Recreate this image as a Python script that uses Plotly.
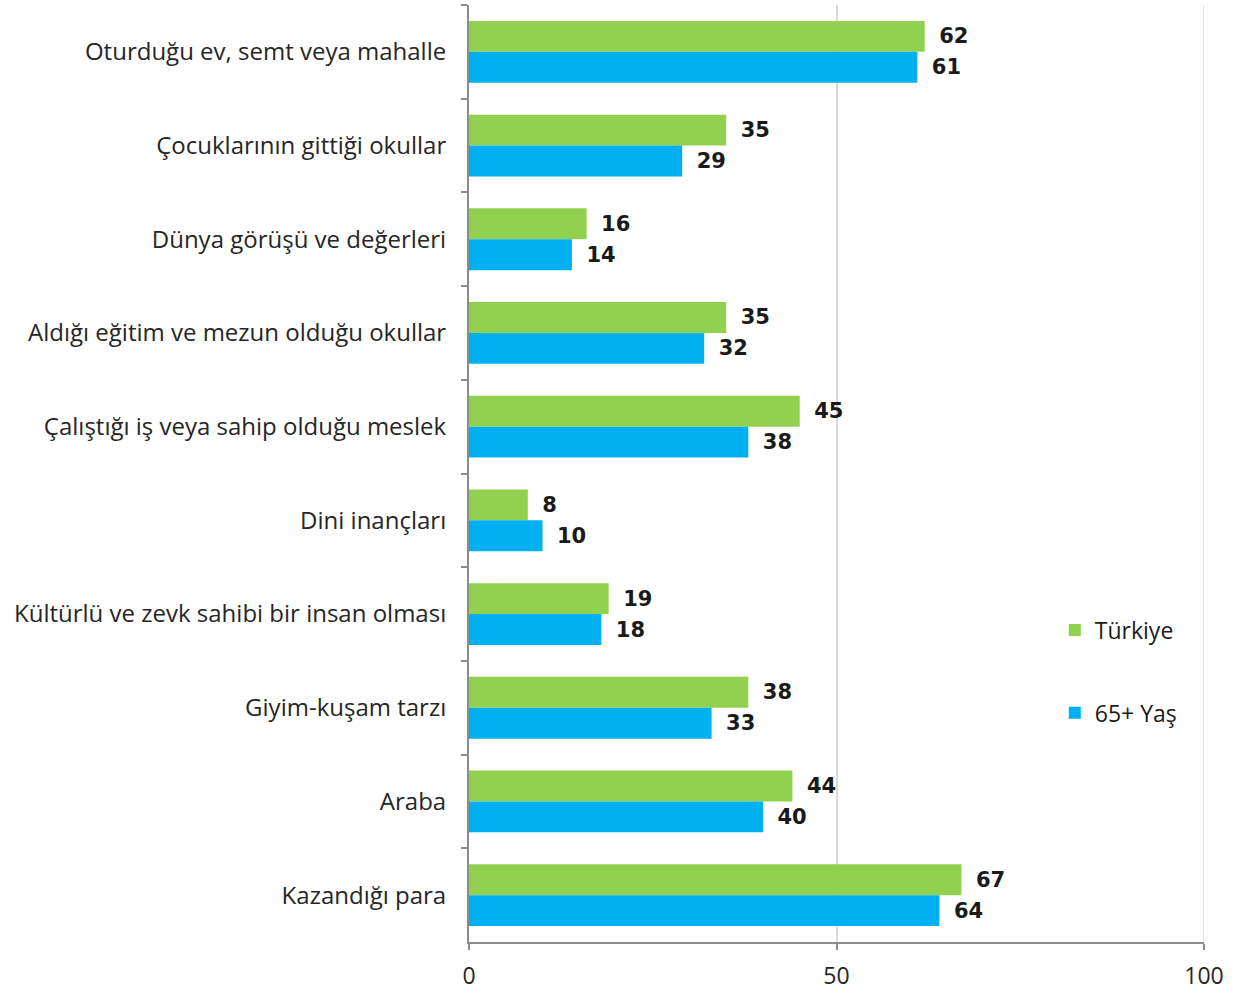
import plotly.graph_objects as go

categories = [
    "Oturduğu ev, semt veya mahalle",
    "Çocuklarının gittiği okullar",
    "Dünya görüşü ve değerleri",
    "Aldığı eğitim ve mezun olduğu okullar",
    "Çalıştığı iş veya sahip olduğu meslek",
    "Dini inançları",
    "Kültürlü ve zevk sahibi bir insan olması",
    "Giyim-kuşam tarzı",
    "Araba",
    "Kazandığı para",
]
turkiye = [62, 35, 16, 35, 45, 8, 19, 38, 44, 67]
yas65 = [61, 29, 14, 32, 38, 10, 18, 33, 40, 64]
x_ticks = [0, 50, 100]

label_font = dict(family="DejaVu Sans", size=21, color="#1a1a1a", weight="bold")

fig = go.Figure()
fig.add_trace(go.Bar(
    y=categories, x=turkiye, orientation="h", name="Türkiye",
    marker=dict(color="#92D050", line=dict(width=0)),
    text=turkiye, texttemplate=" \u2009%{x}", textposition="outside",
    textfont=label_font, cliponaxis=False, legendgroup="a",
))
fig.add_trace(go.Bar(
    y=categories, x=yas65, orientation="h", name="65+ Yaş",
    marker=dict(color="#00B0F0", line=dict(width=0)),
    text=yas65, texttemplate=" \u2009%{x}", textposition="outside",
    textfont=label_font, cliponaxis=False, legendgroup="b",
))

fig.update_layout(
    width=1245, height=992,
    margin=dict(l=469, r=41, t=5, b=50, autoexpand=False),
    paper_bgcolor="white", plot_bgcolor="white",
    barmode="group", bargap=0.34, bargroupgap=0,
    font=dict(family="Open Sans", size=24, color="#262626"),
    showlegend=True,
    legend=dict(x=0.797, y=0.356, xanchor="left", yanchor="top",
                font=dict(size=23, color="#1a1a1a"), tracegroupgap=50,
                bgcolor="rgba(0,0,0,0)"),
)
# gridline at the right end of the x range (plotly hides edge gridlines)
fig.add_shape(type="line", xref="x", yref="paper", x0=x_ticks[-1], x1=x_ticks[-1],
              y0=0, y1=1, line=dict(color="#d9d9d9", width=1.5), layer="below")
fig.update_xaxes(
    range=[0, 100], tickvals=x_ticks, showgrid=True, gridcolor="#d9d9d9",
    gridwidth=1.5, zeroline=False, showline=True, linecolor="#8c8c8c", linewidth=2,
    ticks="outside", ticklen=6, tickcolor="#8c8c8c", tickwidth=2,
    ticklabelstandoff=6,
    tickfont=dict(size=23, color="#262626"), automargin=False,
)
fig.update_yaxes(
    autorange="reversed", showline=True, linecolor="#8c8c8c", linewidth=2,
    ticks="outside", ticklen=6, tickcolor="#8c8c8c", tickwidth=2,
    tickson="boundaries", showgrid=False, ticklabelstandoff=16,
    tickfont=dict(size=24, color="#262626"), automargin=False,
)

fig.write_html("out.html", config={"displayModeBar": False},
               post_script="document.body.style.margin='0';")
